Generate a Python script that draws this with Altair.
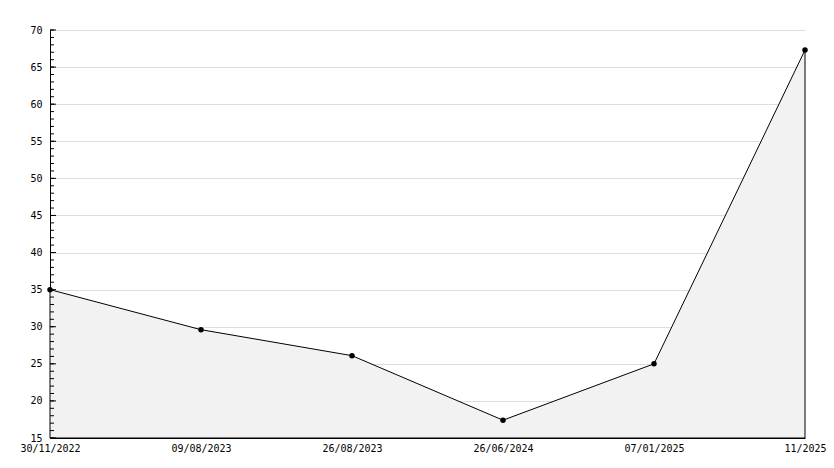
import altair as alt
import pandas as pd

dates = ["30/11/2022", "09/08/2023", "26/08/2023", "26/06/2024", "07/01/2025", "11/2025"]
values = [35.0, 29.6, 26.1, 17.4, 25.0, 67.3]
major_ticks = list(range(15, 71, 5))
minor_ticks = list(range(15, 71, 1))
y_min, y_max = 15, 70

df = pd.DataFrame({"date": dates, "value": values})
major_df = pd.DataFrame({"v": major_ticks})
minor_df = pd.DataFrame({"v": minor_ticks})

FONT = "DejaVu Sans Mono"

x_enc = alt.X("date:O", sort=None, title=None,
              scale=alt.Scale(type="point", padding=0),
              axis=alt.Axis(labelAngle=0, ticks=False, domainColor="black",
                            labelFont=FONT, labelFontSize=10, labelColor="black",
                            labelPadding=5, grid=False, labelOverlap=False,
                            labelBound=False, labelFlush=False))
y_scale = alt.Scale(domain=[y_min, y_max], nice=False, zero=False)
y_axis = alt.Axis(values=major_ticks, ticks=False, domainColor="black",
                  grid=True, gridColor="#dddddd", labelFont=FONT,
                  labelFontSize=10, labelColor="black", labelPadding=8,
                  labelOverlap=False, labelFlush=False, labelBound=False)
y_enc = alt.Y("value:Q", scale=y_scale, title=None, axis=y_axis)

area = alt.Chart(df).mark_area(color="#f2f2f2", stroke="black", strokeWidth=1,
                               fillOpacity=1).encode(x=x_enc, y=y_enc,
                                                     y2=alt.datum(y_min))
pts = alt.Chart(df).mark_point(filled=True, color="black", size=30, opacity=1,
                               shape="circle").encode(x=x_enc, y=y_enc)

minor = alt.Chart(minor_df).mark_rule(color="black", strokeWidth=1).encode(
    x=alt.value(0), x2=alt.value(4),
    y=alt.Y("v:Q", scale=y_scale, title=None, axis=y_axis))
major = alt.Chart(major_df).mark_rule(color="black", strokeWidth=1).encode(
    x=alt.value(0), x2=alt.value(6),
    y=alt.Y("v:Q", scale=y_scale, title=None, axis=y_axis))

chart = alt.layer(area, minor, major, pts).properties(
    width=755, height=408,
    padding={"left": 42, "top": 22, "right": 21, "bottom": 22},
    autosize=alt.AutoSizeParams(type="none"),
    background="white",
).configure_view(stroke=None)

chart.save("out.html", embed_options={"renderer": "svg", "actions": False})
